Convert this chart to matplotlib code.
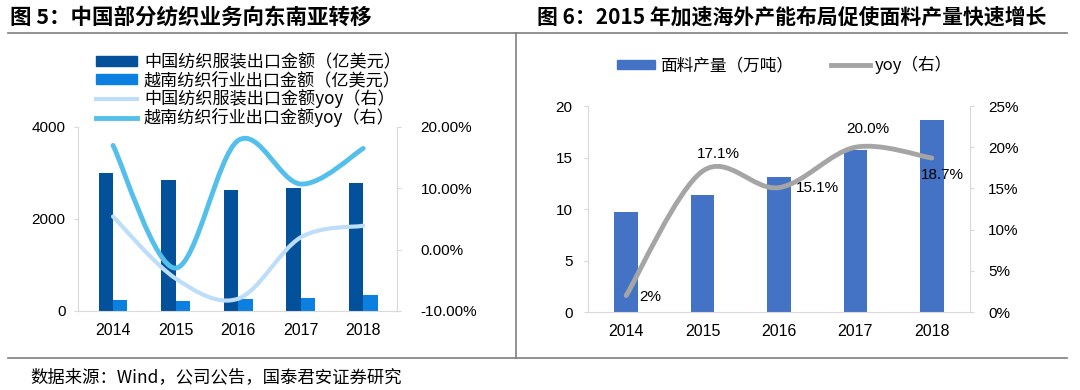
import matplotlib
matplotlib.use('Agg')
import matplotlib.pyplot as plt
from matplotlib.path import Path
from matplotlib.patches import PathPatch, Patch
from matplotlib.lines import Line2D
import numpy as np

plt.rcParams['font.family'] = ['Noto Sans CJK SC', 'DejaVu Sans']
plt.rcParams['axes.unicode_minus'] = False

# 图5 数据
years = ['2014', '2015', '2016', '2017', '2018']
cn_export = [3000, 2850, 2630, 2670, 2780]
vn_export = [235, 215, 260, 290, 340]
cn_yoy = [5.4, -4.7, -8.0, 2.0, 3.9]
vn_yoy = [17.0, -3.0, 17.8, 10.7, 16.5]

# 图6 数据
fabric_output = [9.7, 11.4, 13.1, 15.7, 18.6]
fabric_yoy = [2.0, 17.1, 15.1, 20.0, 18.7]
fabric_yoy_labels = ['2%', '17.1%', '15.1%', '20.0%', '18.7%']

C_CN = '#03509B'
C_VN = '#0B80E0'
C_CN_YOY = '#BDDDF8'
C_VN_YOY = '#55BFEC'
C_BAR = '#4472C4'
C_GRAY = '#A5A5A5'
C_AXIS = '#D9D9D9'
NUM_FONT = ['Liberation Sans', 'DejaVu Sans']


def smooth_path(xs, ys):
    """Excel风格平滑曲线 (Catmull-Rom -> Bezier)"""
    pts = np.column_stack([xs, ys]).astype(float)
    n = len(pts)
    verts = [tuple(pts[0])]
    codes = [Path.MOVETO]
    for i in range(n - 1):
        p0 = pts[max(i - 1, 0)]
        p1 = pts[i]
        p2 = pts[i + 1]
        p3 = pts[min(i + 2, n - 1)]
        c1 = p1 + (p2 - p0) / 6.0
        c2 = p2 - (p3 - p1) / 6.0
        verts += [tuple(c1), tuple(c2), tuple(p2)]
        codes += [Path.CURVE4] * 3
    return Path(verts, codes)


def style_axis(ax, ypad=6):
    ax.spines['top'].set_visible(False)
    ax.spines['left'].set_color(C_AXIS)
    ax.spines['right'].set_color(C_AXIS)
    ax.spines['bottom'].set_color(C_AXIS)
    ax.tick_params(axis='y', length=3, color=C_AXIS, labelsize=11, pad=ypad)
    ax.tick_params(axis='x', length=0, labelsize=11.5, pad=9)


fig = plt.figure(figsize=(10.8, 3.9), dpi=100)

# ---------- 图5 ----------
x = np.arange(len(years))
ax1 = fig.add_axes([0.0722, 0.2026, 0.2954, 0.4718])
ax1.bar(x - 0.23, cn_export, width=0.23, align='edge', color=C_CN, zorder=2)
ax1.bar(x, vn_export, width=0.23, align='edge', color=C_VN, zorder=2)
ax1.set_xlim(-0.56, 4.54)
ax1.set_ylim(0, 4000)
ax1.set_yticks([0, 2000, 4000])
ax1.set_xticks(x)
ax1.set_xticklabels(years)
style_axis(ax1)
ax1.spines['right'].set_visible(False)
for lab in ax1.get_xticklabels() + ax1.get_yticklabels():
    lab.set_family(NUM_FONT)

ax1r = ax1.twinx()
ax1r.set_ylim(-10, 20)
ax1r.set_yticks([-10, 0, 10, 20])
ax1r.set_yticklabels(['-10.00%', '0.00%', '10.00%', '20.00%'])
style_axis(ax1r, ypad=14)
ax1r.spines['left'].set_visible(False)
ax1r.spines['bottom'].set_visible(False)
ax1r.add_patch(PathPatch(smooth_path(x, cn_yoy), fill=False, ec=C_CN_YOY,
                         lw=3, capstyle='round', zorder=3))
ax1r.add_patch(PathPatch(smooth_path(x, vn_yoy), fill=False, ec=C_VN_YOY,
                         lw=3.5, capstyle='round', zorder=3))
for lab in ax1r.get_yticklabels():
    lab.set_family(NUM_FONT)

h1 = [Patch(color=C_CN), Patch(color=C_VN),
      Line2D([], [], color=C_CN_YOY, lw=3),
      Line2D([], [], color=C_VN_YOY, lw=3.5)]
l1 = ['中国纺织服装出口金额（亿美元）', '越南纺织行业出口金额（亿美元）',
      '中国纺织服装出口金额yoy（右）', '越南纺织行业出口金额yoy（右）']
fig.legend(h1, l1, loc='upper left', bbox_to_anchor=(0.089, 0.863), frameon=False,
           fontsize=12.3, handlelength=2.4, handleheight=0.5, handletextpad=0.4,
           labelspacing=0.0, borderpad=0, borderaxespad=0)

# ---------- 图6 ----------
ax2 = fig.add_axes([0.5444, 0.2, 0.3537, 0.528])
ax2.bar(x, fabric_output, width=0.31, color=C_BAR, zorder=2)
ax2.set_xlim(-0.5, 4.5)
ax2.set_ylim(0, 20)
ax2.set_yticks([0, 5, 10, 15, 20])
ax2.set_xticks(x)
ax2.set_xticklabels(years)
style_axis(ax2, ypad=8)
ax2.spines['right'].set_visible(False)
for lab in ax2.get_xticklabels() + ax2.get_yticklabels():
    lab.set_family(NUM_FONT)

ax2r = ax2.twinx()
ax2r.set_ylim(0, 25)
ax2r.set_yticks([0, 5, 10, 15, 20, 25])
ax2r.set_yticklabels([f'{v}%' for v in [0, 5, 10, 15, 20, 25]])
style_axis(ax2r, ypad=10)
ax2r.spines['left'].set_visible(False)
ax2r.spines['bottom'].set_visible(False)
ax2r.add_patch(PathPatch(smooth_path(x, fabric_yoy), fill=False, ec=C_GRAY,
                         lw=3.5, capstyle='round', zorder=3))
for lab in ax2r.get_yticklabels():
    lab.set_family(NUM_FONT)

# 数据标签偏移(像素)
label_offsets = [(24, -1), (16, 17), (38, 0), (12, 18), (11, -17)]
for xi, yi, txt, (dx, dy) in zip(x, fabric_yoy, fabric_yoy_labels, label_offsets):
    ax2r.annotate(txt, (xi, yi), xytext=(dx, dy), textcoords='offset pixels',
                  ha='center', va='center', fontsize=11,
                  family=NUM_FONT, zorder=4)

h2 = [Patch(color=C_BAR), Line2D([], [], color=C_GRAY, lw=3.5)]
l2 = ['面料产量（万吨）', 'yoy（右）']
fig.legend(h2, l2, loc='center left', bbox_to_anchor=(0.571, 0.833), frameon=False,
           ncol=2, fontsize=12, handlelength=2.3, handleheight=0.5,
           handletextpad=0.3, columnspacing=2.3, borderpad=0, borderaxespad=0)

# ---------- 标题与框线 ----------
fig.text(0.009, 0.955, '图 5：中国部分纺织业务向东南亚转移', fontsize=15.5,
         fontweight='bold', va='center', ha='left')
fig.text(0.497, 0.955, '图 6：2015 年加速海外产能布局促使面料产量快速增长',
         fontsize=15, fontweight='bold', va='center', ha='left')
fig.text(0.028, 0.033, '数据来源：Wind，公司公告，国泰君安证券研究', fontsize=12.5,
         va='center', ha='left')

line_kw = dict(color='#7F7F7F', lw=1.2, transform=fig.transFigure)
fig.add_artist(Line2D([0.007, 0.988], [1 - 33 / 390, 1 - 33 / 390], **line_kw))
fig.add_artist(Line2D([0.007, 0.988], [1 - 358 / 390, 1 - 358 / 390], **line_kw))
fig.add_artist(Line2D([516 / 1080, 516 / 1080], [1 - 33 / 390, 1 - 358 / 390], **line_kw))

fig.savefig('out.png', dpi=100)
